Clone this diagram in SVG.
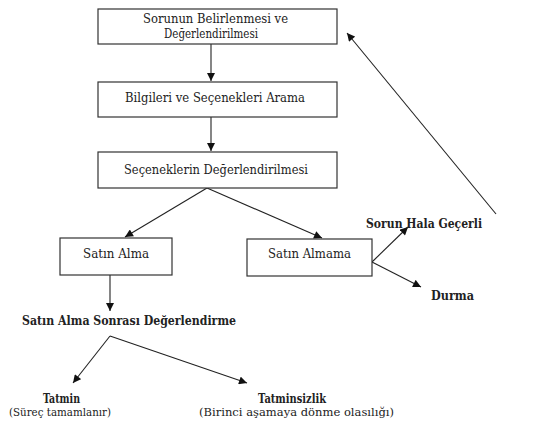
<svg xmlns="http://www.w3.org/2000/svg" width="545" height="423" viewBox="0 0 545 423">
<style>
.box{fill:#fff;stroke:#333;stroke-width:1.2}
text{font-family:"DejaVu Serif",serif;font-size:12.5px;fill:#222;text-anchor:middle}
.b{font-weight:bold;font-size:12px}
.s{font-size:11.5px}
.c{stroke:#222;stroke-width:1.1;fill:none;marker-end:url(#ah)}
</style>
<defs>
<marker id="ah" viewBox="0 0 10 10" refX="10" refY="5" markerWidth="9" markerHeight="8" markerUnits="userSpaceOnUse" orient="auto">
<path d="M0,0 L10,5 L0,10 z" fill="#111"/>
</marker>
</defs>
<rect width="545" height="423" fill="#fff"/>
<g id="connectors">
<line class="c" x1="211" y1="44" x2="211" y2="81"/>
<line class="c" x1="211" y1="117" x2="211" y2="151"/>
<polyline class="c" points="207,188 125,237"/>
<polyline class="c" points="207,188 322,238"/>
<line class="c" x1="110" y1="275" x2="110" y2="311"/>
<line class="c" x1="372" y1="262" x2="408" y2="227"/>
<line class="c" x1="372" y1="262" x2="421" y2="287"/>
<line class="c" x1="496" y1="214" x2="347" y2="33"/>
<polyline class="c" points="110,336 73,383"/>
<polyline class="c" points="110,336 247,383"/>
</g>
<g id="n1"><rect class="box" x="98" y="9" width="239" height="35"/>
<text x="215.5" y="23" textLength="145" lengthAdjust="spacingAndGlyphs">Sorunun Belirlenmesi ve</text>
<text x="211" y="38" textLength="94" lengthAdjust="spacingAndGlyphs">Değerlendirilmesi</text></g>
<g id="n2"><rect class="box" x="98" y="82" width="239" height="35"/>
<text x="215" y="102" textLength="180" lengthAdjust="spacingAndGlyphs">Bilgileri ve Seçenekleri Arama</text></g>
<g id="n3"><rect class="box" x="98" y="152" width="239" height="36"/>
<text x="216" y="174" textLength="184" lengthAdjust="spacingAndGlyphs">Seçeneklerin Değerlendirilmesi</text></g>
<g id="n4"><rect class="box" x="60" y="238" width="112" height="37"/>
<text x="116" y="258" textLength="66" lengthAdjust="spacingAndGlyphs">Satın Alma</text></g>
<g id="n5"><rect class="box" x="247" y="239" width="125" height="37"/>
<text x="309.5" y="258" textLength="83" lengthAdjust="spacingAndGlyphs">Satın Almama</text></g>
<g id="n6"><text class="b" x="129" y="325" textLength="214" lengthAdjust="spacingAndGlyphs">Satın Alma Sonrası Değerlendirme</text></g>
<g id="n7"><text class="b" x="424" y="228" text-anchor="start" textLength="116" lengthAdjust="spacingAndGlyphs">Sorun Hala Geçerli</text></g>
<g id="n8"><text class="b" x="452.5" y="300" textLength="43" lengthAdjust="spacingAndGlyphs">Durma</text></g>
<g id="n9"><text class="b" x="61.5" y="403" textLength="37" lengthAdjust="spacingAndGlyphs">Tatmin</text>
<text class="s" x="60" y="416" textLength="102" lengthAdjust="spacingAndGlyphs">(Süreç tamamlanır)</text></g>
<g id="n10"><text class="b" x="292" y="403" textLength="68" lengthAdjust="spacingAndGlyphs">Tatminsizlik</text>
<text class="s" x="296.5" y="416" textLength="195" lengthAdjust="spacingAndGlyphs">(Birinci aşamaya dönme olasılığı)</text></g>
</svg>
